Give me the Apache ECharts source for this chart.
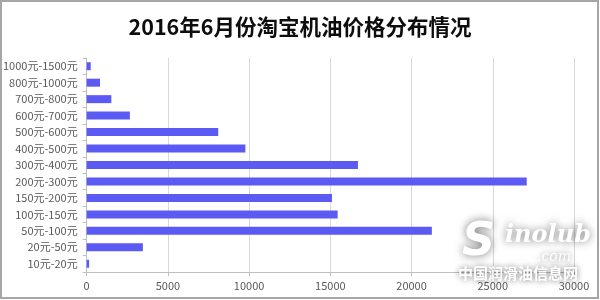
<!DOCTYPE html>
<html><head><meta charset="utf-8">
<script src="https://cdn.jsdelivr.net/npm/echarts@6/dist/echarts.min.js"></script>
<style>html,body{margin:0;padding:0;background:#fff}#c{width:600px;height:300px}</style>
</head><body><div id="c"></div>
<script>
var categories = ['10元-20元','20元-50元','50元-100元','100元-150元','150元-200元','200元-300元','300元-400元','400元-500元','500元-600元','600元-700元','700元-800元','800元-1000元','1000元-1500元'];
var values = [150, 3460, 21250, 15450, 15100, 27090, 16700, 9770, 8100, 2660, 1520, 820, 250];
var titleText = '2016年6月份淘宝机油价格分布情况';
var xTicks = {min: 0, max: 30000, interval: 5000};

var chart = echarts.init(document.getElementById('c'));
var lab = {color:'#595959', fontSize:11, fontFamily:'"Noto Sans CJK SC", sans-serif'};
function wm(o){
  o.style.fill = '#ffffff';
  o.style.textShadowBlur = o.blur || 8;
  o.style.textShadowColor = 'rgba(0,0,0,0.55)';
  o.style.shadowBlur = o.blur || 8;
  o.style.shadowColor = 'rgba(0,0,0,0.55)';
  o.type = 'text'; o.z = 100;
  delete o.blur;
  return o;
}
chart.setOption({
  animation:false,
  title:{text:titleText, left:'center', top:11, textStyle:{fontSize:21.5, fontWeight:'bold', color:'#0d0d0d', fontFamily:'"Noto Sans CJK SC", sans-serif'}},
  grid:{left:86, right:26, top:58, bottom:28},
  xAxis:{type:'value', min:xTicks.min, max:xTicks.max, interval:xTicks.interval,
    axisLine:{show:true, lineStyle:{color:'#bfbfbf'}},
    axisTick:{show:true, length:4, lineStyle:{color:'#bfbfbf'}},
    splitLine:{lineStyle:{color:'#d9d9d9'}},
    axisLabel:Object.assign({margin:8, formatter:function(v){return String(v);}}, lab)},
  yAxis:{type:'category', data:categories,
    axisLine:{show:true, lineStyle:{color:'#bfbfbf'}},
    axisTick:{show:true, length:4, lineStyle:{color:'#bfbfbf'}},
    axisLabel:Object.assign({margin:9}, lab)},
  series:[{type:'bar', data:values, barWidth:8, itemStyle:{color:'#5b5bf4'}}],
  graphic:[
    {type:'rect', z:200, shape:{x:1, y:1, width:597, height:297}, style:{fill:'none', stroke:'#a6a6a6', lineWidth:2}, silent:true},
    wm({left:462, top:220, blur:10, style:{text:'S', fontSize:46, fontStyle:'italic', fontWeight:'bold', fontFamily:'"DejaVu Sans", sans-serif'}}),
    wm({left:505, top:224, blur:8, style:{text:'inolub', fontSize:24, fontStyle:'italic', fontWeight:'bold', fontFamily:'"DejaVu Serif", serif'}}),
    wm({left:537, top:250, blur:6, style:{text:'.com', fontSize:14, fontStyle:'italic', fontFamily:'"DejaVu Serif", serif'}}),
    wm({left:458, top:266, blur:6, style:{text:'中国润滑油信息网', fontSize:15, fontWeight:'bold', fontFamily:'"Noto Sans CJK SC", sans-serif'}})
  ]
});
</script></body></html>
